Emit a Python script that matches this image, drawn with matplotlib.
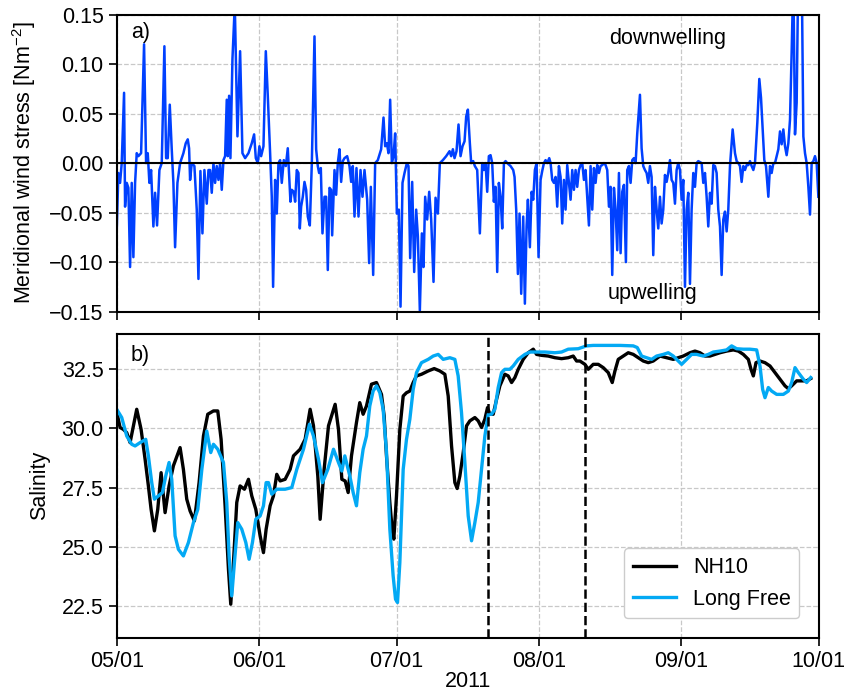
import numpy as np
import matplotlib
matplotlib.use('Agg')
from matplotlib import pyplot as plt
import matplotlib.dates as mdates
import matplotlib.ticker as mticker
from datetime import datetime

plt.rcParams['font.family'] = ['Liberation Sans', 'DejaVu Sans']
plt.rcParams['mathtext.default'] = 'regular'
plt.rcParams['font.size'] = 15.5

start = datetime(2011, 5, 1)
end = datetime(2011, 10, 1)

# meridional wind stress, days since 2011-05-01
wind_day = [0.00, 0.36, 0.73, 1.09, 1.60, 1.82, 2.18, 2.54, 2.91, 3.27, 3.63, 4.00, 4.36, 4.72,
            5.31, 5.96, 6.40, 6.76, 7.12, 7.49, 7.99, 8.36, 8.79, 9.30, 9.81, 10.39, 10.76,
            11.12, 11.56, 11.99, 12.35, 12.72, 13.23, 13.81, 14.53, 15.04, 15.48, 15.77, 15.99,
            16.35, 16.93, 17.44, 17.81, 18.24, 18.68, 19.11, 19.62, 19.99, 20.35, 20.71, 21.08,
            21.44, 21.80, 22.17, 22.53, 22.89, 23.26, 23.62, 23.98, 24.20, 24.49, 24.78, 25.22,
            25.73, 25.94, 26.31, 26.53, 26.89, 27.40, 27.98, 28.71, 29.43, 29.94, 30.31, 30.74,
            31.10, 31.47, 31.98, 32.49, 32.92, 33.43, 33.79, 34.08, 34.52, 34.88, 35.25, 35.61,
            35.97, 36.41, 36.85, 37.28,
            37.86, 38.15, 38.59, 38.88, 39.24, 39.61, 39.90, 40.19, 40.55, 40.92, 41.28, 41.64,
            42.08, 42.52, 43.10, 43.46, 43.82, 44.11, 44.48, 44.84, 45.28, 45.64, 46.00, 46.37,
            46.73, 46.95, 47.46, 47.82, 48.18, 48.55, 48.91, 49.27, 49.64, 50.22, 50.73, 51.09,
            51.45, 51.82, 52.25, 52.69, 53.13, 53.56, 54.00, 54.58, 55.01, 55.38, 55.89, 56.32,
            56.90, 57.63, 58.14, 58.50, 58.87, 59.23, 59.59, 59.96, 60.32, 60.68, 61.05, 61.48,
            61.85, 62.28, 62.72, 63.23, 63.59, 63.95, 64.39, 64.83, 65.26, 65.63, 66.06, 66.50,
            66.86, 67.22, 67.66, 68.10, 68.53, 69.04, 69.48, 69.99, 70.42, 71.08, 71.80, 72.53,
            72.89, 73.26, 73.62, 74.05, 74.49, 74.93, 75.36, 75.80, 76.16,
            76.53, 76.96, 77.25, 77.69, 78.05, 78.56, 79.14, 79.65, 80.01, 80.38, 80.74, 81.10,
            81.47, 81.83, 82.19, 82.56, 82.92, 83.28, 83.65, 84.01, 84.38, 84.74, 85.10, 85.83,
            86.41, 86.70, 87.06, 87.43, 87.79, 88.15, 88.59, 88.95, 89.32, 89.61, 90.04, 90.41,
            90.77, 91.13, 91.50, 91.93, 92.37, 92.73, 93.10, 93.46, 93.82, 94.26, 94.55, 94.91,
            95.28, 95.64, 96.00, 96.37, 96.73, 97.09, 97.46, 97.82, 98.18, 98.55, 98.91, 99.27,
            99.64, 100.00, 100.36, 100.73, 101.09, 101.45, 101.82, 102.18, 102.54, 102.91,
            103.27, 103.63, 104.00, 104.36, 104.72, 105.09, 105.45, 105.81, 106.18, 106.54,
            106.90, 107.27, 107.63, 107.99, 108.36, 108.72, 109.08, 109.45, 109.81, 110.17,
            110.54, 110.97, 111.26, 111.63, 111.99, 112.35, 112.72, 113.08, 113.44, 114.03,
            114.39,
            114.75, 115.12, 115.48, 115.84, 116.21, 116.57, 116.93, 117.30, 117.66, 118.02,
            118.39, 118.75, 119.11, 119.48, 119.84, 120.20, 120.57, 120.93, 121.29, 121.66,
            122.02, 122.38, 122.75, 123.11, 123.47, 123.84, 124.20, 124.56, 124.93, 125.29,
            125.65, 126.02, 126.38, 126.74, 127.47, 127.83, 128.20, 128.56, 128.92, 129.29,
            129.65, 130.01, 130.38, 130.74, 131.10, 131.47, 131.83, 132.19, 132.56, 132.92,
            133.28, 133.65, 134.23, 134.74, 135.10, 135.47, 135.83, 136.19, 136.56, 136.92,
            137.28, 137.65, 138.01, 138.37, 138.74, 139.10, 139.61, 140.04, 140.41, 140.77,
            141.13, 141.50, 142.01, 142.37, 142.73, 143.10, 143.46, 143.82, 144.19, 144.55,
            144.91, 145.28, 145.64, 146.00, 146.37, 146.73, 147.09, 147.46, 147.82, 148.18,
            148.55, 148.91, 149.27, 149.64, 150.00, 150.36, 150.73, 151.09, 151.45, 151.82,
            152.18, 152.54, 152.91]
wind_tau = [-0.068, -0.010, -0.020, 0.000, 0.071, -0.044, -0.020, -0.025, -0.105, -0.020, -0.095,
            -0.020, 0.010, 0.007, 0.010, 0.120, 0.000, 0.010, -0.020, -0.007, -0.064, -0.030,
            -0.063, -0.007, 0.000, 0.118, 0.005, 0.005, 0.059, 0.014, -0.020, -0.085, -0.020,
            0.000, 0.010, 0.020, 0.024, 0.015, -0.017, 0.000, -0.003, -0.047, -0.117, -0.008,
            -0.071, -0.007, -0.041, -0.007, -0.007, -0.030, 0.000, -0.020, -0.003, -0.017, 0.000,
            -0.027, 0.003, 0.007, 0.064, 0.007, 0.068, 0.005, 0.105, 0.160, 0.112, 0.027, 0.061,
            0.113, 0.010, 0.005, 0.010, 0.020, 0.029, 0.005, 0.000, 0.017, 0.007, 0.017, 0.113,
            0.068, 0.010, -0.034, -0.125, -0.017, -0.051, 0.000, 0.003, -0.020, 0.003, -0.003,
            0.015,
            -0.039, -0.027, -0.029, -0.039, -0.007, -0.010, -0.066, -0.044, -0.034, -0.019,
            -0.027, -0.054, -0.063, 0.000, 0.128, 0.014, -0.003, -0.010, -0.005, -0.071, -0.034,
            -0.034, -0.108, -0.025, -0.027, -0.073, -0.007, -0.032, 0.000, 0.014, -0.019, 0.002,
            0.005, 0.007, -0.003, -0.019, -0.003, -0.054, -0.005, -0.054, -0.007, -0.034, -0.007,
            -0.037, -0.101, -0.024, -0.113, 0.000, 0.003, 0.014, 0.046, 0.017, 0.020, 0.010,
            0.064, 0.000, 0.007, 0.030, -0.051, -0.047, -0.145, -0.020, -0.010, 0.000, -0.003,
            -0.096, -0.019, -0.110, -0.047, -0.074, -0.149, -0.071, -0.105, -0.034, -0.057,
            -0.029, -0.057, -0.120, -0.035, -0.051, 0.000, 0.003, 0.007, 0.012, 0.007, 0.014,
            0.005, 0.012, 0.039, 0.007, 0.017, 0.022, 0.047,
            0.054, 0.020, 0.000, 0.002, -0.003, -0.007, -0.071, 0.000, -0.007, 0.000, -0.029,
            0.007, 0.008, 0.000, -0.039, -0.024, -0.110, -0.020, -0.034, -0.066, 0.000, 0.002,
            0.000, -0.003, -0.007, -0.014, -0.047, -0.112, -0.051, -0.132, -0.054, -0.142,
            -0.064, -0.037, -0.085, -0.029, -0.037, -0.007, 0.000, -0.095, -0.017, -0.008,
            0.000, 0.003, 0.000, 0.005, 0.000, -0.017, -0.020, -0.014, -0.044, -0.003, -0.014,
            -0.061, -0.017, -0.047, -0.002, -0.020, -0.037, -0.007, -0.027, -0.007, -0.024,
            -0.007, -0.002, 0.000, -0.017, -0.007, -0.034, -0.063, -0.003, -0.047, -0.005,
            -0.020, -0.002, -0.010, -0.003, -0.002, 0.000, -0.002, -0.007, -0.044, -0.024,
            -0.113, -0.025, -0.047, -0.088, -0.010, -0.091, -0.029, -0.022, -0.100, -0.007,
            -0.003, -0.020, 0.003, 0.005, 0.000, 0.030, 0.069, 0.015,
            -0.003, -0.007, -0.010, -0.020, -0.003, -0.014, -0.093, -0.024, -0.047, -0.066,
            -0.034, -0.061, -0.047, -0.012, -0.019, -0.010, 0.003, -0.017, -0.020, -0.041,
            -0.007, 0.000, -0.007, -0.037, -0.017, -0.125, -0.047, -0.030, -0.122, -0.047,
            -0.010, -0.024, 0.000, 0.002, 0.000, -0.020, -0.010, -0.034, -0.064, -0.030,
            -0.041, -0.002, -0.003, -0.010, -0.047, -0.064, -0.113, -0.057, -0.049, -0.069,
            -0.047, -0.003, 0.034, 0.010, 0.002, 0.000, -0.003, -0.019, -0.003, -0.007,
            -0.002, -0.002, 0.002, -0.003, -0.007, 0.000, 0.041, 0.085, 0.066, 0.034,
            0.003, -0.003, -0.034, -0.003, -0.010, 0.000, 0.000, 0.007, 0.014, 0.032,
            0.019, 0.034, 0.017, 0.008, 0.020, 0.044, 0.112, 0.190, 0.029, 0.061,
            0.200, 0.220, 0.200, 0.027, 0.010, 0.000, -0.024, -0.052, 0.000, 0.002,
            0.007, 0.000, -0.034]

# NH10 observed salinity
nh10_day = [0.00, 0.73, 1.45, 2.18, 2.91, 3.63, 4.36, 5.31, 6.18, 6.90, 7.49, 8.21, 8.94, 9.67,
            10.54, 11.41, 12.35, 13.81, 14.53, 15.26, 15.99, 16.93, 17.95, 18.90, 19.84, 21.08,
            22.02, 22.75, 23.62, 24.35, 24.85, 25.44, 26.16, 26.89, 27.83, 28.71, 29.43, 30.31,
            31.25, 31.98, 32.56, 33.43, 34.16, 34.88, 35.61, 36.70, 37.79, 38.52, 39.97, 41.06,
            42.15, 42.88, 43.82, 44.33, 45.20, 46.15, 47.60, 48.33, 49.06, 49.78,
            50.44, 51.16, 52.25, 52.97, 53.70, 54.43, 55.52, 56.61, 57.70, 58.28, 58.79, 59.52,
            60.03, 60.39, 60.97, 61.70, 62.43, 63.15, 63.88, 64.61, 65.33, 66.42, 67.88, 69.19,
            70.42, 71.51, 72.24, 72.97, 73.69, 74.20, 74.78, 75.51, 76.24, 76.96, 78.05, 78.78,
            79.51, 80.23, 80.81, 81.32, 82.05, 82.78, 83.50, 84.59, 85.32, 86.05, 86.77, 87.50,
            88.59, 89.68, 90.78, 91.50, 92.59, 94.04, 95.49, 96.95, 98.40, 99.49, 100.22,
            100.94, 102.03, 102.76, 103.85, 104.94, 106.03, 107.12, 107.99, 108.58, 109.30,
            110.39, 111.48, 112.57, 113.66, 114.75, 115.84, 116.93, 118.39, 119.84, 121.29,
            122.38, 123.47, 124.93, 126.02, 127.11, 128.20, 129.29, 130.38, 131.47, 132.92,
            134.38, 135.47, 136.56, 137.65, 138.23, 138.74, 139.32, 140.19, 141.28, 142.37,
            143.46, 144.55, 145.64, 146.37, 147.09, 148.18, 149.27, 150.36, 151.24]
nh10_sal = [30.70, 30.04, 29.96, 29.82, 29.40, 30.11, 30.81, 29.96, 28.70, 27.57, 26.58, 25.67,
            26.58, 28.13, 26.44, 27.57, 28.42, 29.19, 28.27, 27.01, 26.51, 26.09, 27.71, 29.68,
            30.60, 30.74, 30.74, 29.54, 26.73, 24.05, 22.57, 24.33, 26.87, 27.57, 27.43, 27.85,
            27.15, 26.58, 25.46, 24.75, 25.74, 26.73, 27.15, 28.06, 27.78, 27.85, 28.27, 28.84,
            29.12, 29.54, 30.81, 30.11, 27.99, 26.16, 28.27, 30.11, 31.02, 29.96, 27.85, 27.78,
            27.29, 28.84, 30.25, 31.09, 30.60, 30.95, 31.87, 31.94, 31.44, 30.53, 28.84, 26.87,
            25.74, 25.32, 27.15, 29.96, 31.37, 31.51, 31.58, 31.94, 32.22, 32.29, 32.43, 32.53,
            32.43, 32.29, 31.37, 29.26, 27.71, 27.46, 27.99, 28.98, 30.11, 30.32, 30.46, 30.32,
            30.04, 30.39, 30.88, 30.60, 30.60, 31.23, 31.80, 32.29, 32.22, 31.94, 32.15, 32.50,
            32.92, 33.20, 33.35, 33.13, 33.09, 33.06, 32.99, 32.95, 32.99, 33.06, 32.85,
            32.85, 32.71, 32.50, 32.71, 32.71, 32.57, 32.36, 31.94, 32.43, 32.92,
            33.06, 33.20, 33.13, 32.99, 32.85, 32.78, 32.85, 33.06, 32.99, 32.92,
            32.99, 33.06, 33.20, 33.27, 33.20, 33.06, 33.06, 33.13, 33.20, 33.27,
            33.32, 33.27, 33.13, 32.92, 32.50, 32.22, 32.78, 32.85, 32.78, 32.64,
            32.36, 32.08, 31.80, 31.68, 31.80, 32.01, 32.01, 32.01, 32.11]

# Long Free model salinity
free_day = [0.00, 1.09, 2.18, 3.27, 4.00, 5.09, 6.32, 6.90, 7.63, 8.21, 9.08, 9.96, 10.68, 11.41,
            11.99, 12.72, 13.44, 14.53, 15.63, 16.72, 17.67, 18.55, 19.62, 20.49, 21.08, 22.02,
            23.26, 23.98, 24.49, 25.07, 25.65, 26.38, 27.25, 28.13, 28.85, 29.58, 30.31, 31.25,
            31.98, 32.56, 33.07, 33.79, 34.88, 36.70, 38.15, 39.24, 40.70, 42.01, 42.88, 43.97,
            44.84, 46.00, 47.24, 48.33, 49.06, 49.71,
            50.80, 51.53, 52.25, 52.97, 53.70, 54.43, 55.15, 55.88, 56.61, 57.34, 58.06, 58.79,
            59.52, 60.24, 60.76, 61.19, 61.70, 62.43, 63.15, 63.88, 64.61, 65.33, 66.42, 67.88,
            68.97, 70.06, 71.15, 72.60, 73.69, 74.41, 75.14, 75.87, 76.60, 77.33, 78.05, 78.78,
            79.51, 80.23, 80.96, 81.69, 82.41, 83.14, 83.87, 84.59, 85.68, 86.41, 87.50, 88.95,
            90.04, 91.50, 93.31, 95.49, 96.95, 98.40, 100.58,
            102.40, 103.85, 105.31, 106.76, 108.21, 109.67, 112.57, 113.44, 114.39, 115.48,
            116.57, 117.66, 119.11, 120.20, 121.29, 122.38, 123.11, 124.20, 125.29, 126.38,
            127.83, 128.92, 130.01, 131.47, 132.92, 134.01, 135.10, 136.56, 138.01, 139.46,
            140.19, 140.77, 141.28, 142.01, 142.73, 143.82, 145.28, 146.37, 147.09, 147.82,
            148.55, 149.64, 150.36, 151.24]
free_sal = [30.81, 30.46, 29.68, 29.33, 29.26, 29.40, 29.54, 28.84, 27.71, 27.01, 27.15, 27.29,
            27.99, 28.56, 27.85, 25.46, 24.89, 24.61, 25.18, 26.02, 26.58, 28.27, 29.89, 28.98,
            29.33, 29.12, 28.56, 26.87, 24.61, 22.92, 24.33, 26.02, 25.74, 25.18, 24.47, 25.18,
            26.16, 26.30, 26.73, 27.71, 27.71, 27.22, 27.43, 27.43, 27.50, 28.27, 29.12, 30.18,
            29.68, 28.70, 27.71, 28.27, 29.12, 28.56, 28.20, 28.84,
            27.99, 27.29, 26.73, 28.13, 29.12, 29.68, 30.95, 31.58, 31.80, 31.51, 30.81, 29.02,
            25.74, 23.77, 22.78, 22.64, 24.33, 28.27, 29.54, 30.39, 31.65, 32.36, 32.78, 32.92,
            33.06, 33.13, 32.92, 32.99, 32.92, 32.22, 30.67, 28.56, 26.30, 25.25, 26.02, 26.87,
            28.27, 29.68, 30.60, 30.60, 30.81, 31.73, 32.36, 32.50, 32.50, 32.64, 32.92, 33.13,
            33.23, 33.23, 33.23, 33.20, 33.23, 33.35, 33.37,
            33.49, 33.51, 33.51, 33.51, 33.51, 33.51, 33.49, 33.42, 33.06, 32.99,
            32.92, 33.06, 33.13, 33.20, 33.06, 32.85, 32.71, 32.92, 33.13, 33.13,
            33.06, 33.13, 33.23, 33.27, 33.32, 33.49, 33.37, 33.35, 33.35, 33.32,
            32.64, 31.65, 31.30, 31.73, 31.58, 31.44, 31.44, 31.58, 31.94, 32.57,
            32.36, 32.08, 31.94, 32.15]

# dates of the two dashed markers (days since 2011-05-01)
event_days = [81, 102]

t0 = mdates.date2num(start)
wind_t = t0 + np.array(wind_day)
nh10_t = t0 + np.array(nh10_day)
free_t = t0 + np.array(free_day)

fig = plt.figure(figsize=(8.52, 6.94), dpi=100)
ax1 = fig.add_axes([0.137, 0.551, 0.824, 0.428])
ax2 = fig.add_axes([0.137, 0.081, 0.824, 0.438], sharex=ax1)

ax1.plot(wind_t, wind_tau, color='#0040ff', lw=1.8)
ax1.axhline(0, color='k', lw=1.5)
ax1.set_ylim(-0.15, 0.15)
ax1.set_yticks([-0.15, -0.10, -0.05, 0.0, 0.05, 0.10, 0.15])
ax1.yaxis.set_major_formatter(mticker.FuncFormatter(lambda v, p: '{:.2f}'.format(v).replace('-', '\u2212')))
ax1.set_ylabel('Meridional wind stress [Nm$^{-2}$]', labelpad=8)
ax1.text(0.02, 0.94, 'a)', transform=ax1.transAxes, va='center')
ax1.text(0.785, 0.92, 'downwelling', transform=ax1.transAxes, ha='center', va='center')
ax1.text(0.763, 0.06, 'upwelling', transform=ax1.transAxes, ha='center', va='center')
ax1.tick_params(labelbottom=False)

ax2.plot(nh10_t, nh10_sal, color='k', lw=2.4, label='NH10')
ax2.plot(free_t, free_sal, color='#03a9f4', lw=2.4, label='Long Free')
for d in event_days:
    ax2.axvline(t0 + d, color='k', ls='--', lw=1.8)
ax2.set_ylim(21.15, 34.0)
ax2.set_yticks([22.5, 25.0, 27.5, 30.0, 32.5])
ax2.set_ylabel('Salinity', labelpad=8)
ax2.text(0.02, 0.93, 'b)', transform=ax2.transAxes, va='center')
ax2.legend(loc='lower right', fancybox=True, framealpha=1.0, edgecolor='#cccccc',
           borderaxespad=0.9)
ax2.set_xlabel('2011', labelpad=-1)

ax2.set_xlim(mdates.date2num(start), mdates.date2num(end))
ax2.xaxis.set_major_locator(mdates.MonthLocator())
ax2.xaxis.set_major_formatter(mdates.DateFormatter('%m/%d'))

for ax in (ax1, ax2):
    ax.grid(True, ls='--', color='#c8c8c8', lw=0.9)
    ax.set_axisbelow(True)
    ax.tick_params(length=6, width=1.2)
    for s in ax.spines.values():
        s.set_linewidth(1.5)

fig.savefig('out.png', dpi=100)
